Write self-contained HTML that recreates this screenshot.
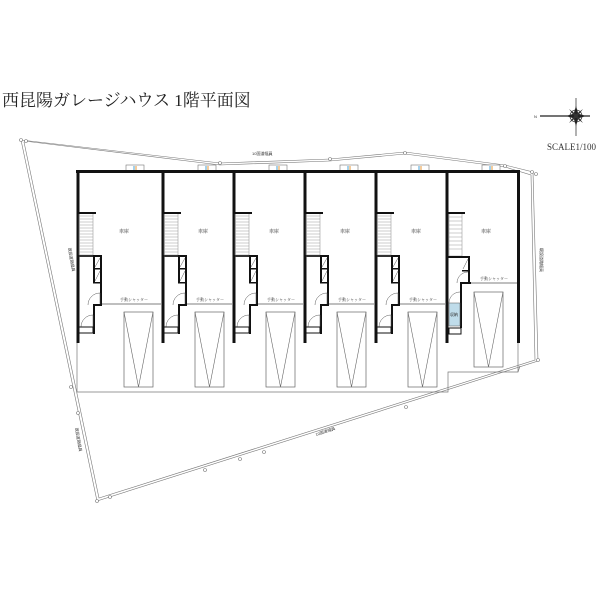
<!DOCTYPE html>
<html><head><meta charset="utf-8"><style>
html,body{margin:0;padding:0;background:#fff;}
svg{display:block;}
text{font-family:"Liberation Serif","Noto Serif CJK SC","Noto Sans CJK JP",serif;}
.t{font-family:"Liberation Sans","Noto Sans CJK JP",sans-serif;fill:#333;}
</style></head><body>
<svg width="600" height="600" viewBox="0 0 600 600" xmlns="http://www.w3.org/2000/svg">
<defs>
<g id="unit">
  <rect x="-1.5" y="171" width="3" height="172" fill="#111"/>
  <rect x="1" y="213" width="14" height="42" fill="none" stroke="#888" stroke-width="0.5"/>
  <g stroke="#999" stroke-width="0.5">
    <line x1="1" y1="216" x2="15" y2="216"/><line x1="1" y1="219" x2="15" y2="219"/><line x1="1" y1="222" x2="15" y2="222"/>
    <line x1="1" y1="225" x2="15" y2="225"/><line x1="1" y1="228" x2="15" y2="228"/><line x1="1" y1="231" x2="15" y2="231"/>
    <line x1="1" y1="234" x2="15" y2="234"/><line x1="1" y1="237" x2="15" y2="237"/><line x1="1" y1="240" x2="15" y2="240"/>
    <line x1="1" y1="243" x2="15" y2="243"/><line x1="1" y1="246" x2="15" y2="246"/><line x1="1" y1="249" x2="15" y2="249"/>
    <line x1="1" y1="252" x2="15" y2="252"/>
  </g>
  <rect x="0" y="212" width="18" height="2" fill="#111"/>
  <rect x="0" y="255" width="24" height="2" fill="#111"/>
  <rect x="22" y="255" width="2" height="50" fill="#111"/>
  <rect x="15" y="255" width="2" height="28" fill="#111"/>
  <rect x="15" y="268" width="8" height="1.5" fill="#111"/>
  <rect x="15" y="282" width="8" height="1.5" fill="#111"/>
  <line x1="17" y1="267" x2="22" y2="258" stroke="#555" stroke-width="0.5"/>
  <line x1="17" y1="281" x2="22" y2="271" stroke="#555" stroke-width="0.5"/>
  <path d="M10 305 A12 12 0 0 1 22 293 L22 305" fill="none" stroke="#555" stroke-width="0.5"/>
  <rect x="15" y="304" width="9" height="2" fill="#111"/>
  <rect x="15" y="304" width="2" height="30" fill="#111"/>
  <path d="M3 327 A12 12 0 0 1 15 315 L15 327" fill="none" stroke="#555" stroke-width="0.5"/>
  <rect x="1" y="327" width="14" height="6" fill="#fff" stroke="#111" stroke-width="1"/>
  <line x1="1" y1="256" x2="15" y2="256" stroke="#999" stroke-width="0.5"/>
</g>
<g id="car">
  <rect x="0" y="0" width="29" height="75" fill="none" stroke="#666" stroke-width="0.7"/>
  <polyline points="0,0 14.5,75 29,0" fill="none" stroke="#666" stroke-width="0.6"/>
</g>
<g id="meter">
  <rect x="0" y="0" width="18" height="6" fill="#fff" stroke="#777" stroke-width="0.6"/>
  <line x1="8" y1="1" x2="8" y2="6" stroke="#4aa3d8" stroke-width="1"/>
  <line x1="10" y1="1" x2="10" y2="6" stroke="#e89a3a" stroke-width="1"/>
</g>
</defs>

<text x="2" y="106" font-size="17" fill="#222">西昆陽ガレージハウス 1階平面図</text>

<!-- compass -->
<g transform="translate(576,116)">
  <line x1="-36" y1="0" x2="14" y2="0" stroke="#222" stroke-width="1.2"/>
  <line x1="0" y1="-18" x2="0" y2="20" stroke="#222" stroke-width="0.7"/>
  <circle r="6" fill="none" stroke="#333" stroke-width="0.8"/>
  <polygon points="0,-10 3,0 0,10 -3,0" fill="#222"/>
  <polygon points="-10,0 0,-3 10,0 0,3" fill="#222"/>
  <polygon points="-7,-7 1,-1 7,7 -1,1" fill="#333"/>
  <polygon points="7,-7 1,1 -7,7 -1,-1" fill="#333"/>
  <text x="-42" y="2" font-size="4" class="t">N</text>
</g>
<text x="547" y="150" font-size="9" fill="#333">SCALE1/100</text>

<!-- boundary (double lines) -->
<g fill="none" stroke="#777" stroke-width="0.6">
  <polyline points="21,140 220,163 330,159 405,152 505,165 533,172 538,361 97,501 21,140"/>
  <polyline points="24,141 220,165 330,161 405,154 505,167 531,175 535,360 99,498 24,142"/>
</g>
<g fill="#fff" stroke="#777" stroke-width="0.6">
  <circle cx="21" cy="140" r="1.5"/><circle cx="26" cy="141" r="1.5"/><circle cx="220" cy="163" r="1.5"/>
  <circle cx="330" cy="159" r="1.5"/><circle cx="405" cy="153" r="1.5"/><circle cx="505" cy="166" r="1.5"/>
  <circle cx="532" cy="172" r="1.5"/><circle cx="536" cy="174" r="1.5"/><circle cx="538" cy="360" r="1.5"/>
  <circle cx="97" cy="501" r="1.5"/><circle cx="110" cy="497" r="1.5"/><circle cx="205" cy="470" r="1.5"/>
  <circle cx="240" cy="459" r="1.5"/><circle cx="264" cy="452" r="1.5"/><circle cx="406" cy="407" r="1.5"/>
  <circle cx="71" cy="387" r="1.5"/><circle cx="78" cy="413" r="1.5"/>
</g>
<text x="252" y="155" font-size="4" class="t">10国道幅員</text>
<text transform="translate(316,436) rotate(-18)" font-size="4" class="t">10国道幅員</text>
<text transform="translate(68,248) rotate(80)" font-size="4" class="t">既設道路幅員</text>
<text transform="translate(75,428) rotate(80)" font-size="4" class="t">既設道路幅員</text>
<text transform="translate(540,248) rotate(90)" font-size="4" class="t">既設道路幅員</text>

<!-- parking outline -->
<polyline points="77,343 77,392 448,392 448,372 518,372 520,366" fill="none" stroke="#777" stroke-width="0.7"/>
<line x1="518" y1="343" x2="518" y2="372" stroke="#777" stroke-width="0.7"/>

<!-- meters -->
<use href="#meter" x="126" y="165"/><use href="#meter" x="198" y="165"/><use href="#meter" x="269" y="165"/>
<use href="#meter" x="340" y="165"/><use href="#meter" x="411" y="165"/><use href="#meter" x="482" y="165"/>

<!-- walls -->
<rect x="76" y="170" width="444" height="3" fill="#111"/>
<rect x="517" y="170" width="3" height="173" fill="#111"/>

<use href="#unit" x="78"/>
<use href="#unit" x="163"/>
<use href="#unit" x="234"/>
<use href="#unit" x="305"/>
<use href="#unit" x="376"/>

<!-- shutters -->
<g stroke="#555" stroke-width="0.8">
  <line x1="102" y1="304" x2="161" y2="304"/>
  <line x1="187" y1="304" x2="232" y2="304"/>
  <line x1="258" y1="304" x2="303" y2="304"/>
  <line x1="329" y1="304" x2="374" y2="304"/>
  <line x1="400" y1="304" x2="445" y2="304"/>
  <line x1="471" y1="283" x2="517" y2="283"/>
</g>
<g font-size="4" class="t" text-anchor="middle">
  <text x="134" y="301">手動シャッター</text><text x="210" y="301">手動シャッター</text>
  <text x="281" y="301">手動シャッター</text><text x="352" y="301">手動シャッター</text>
  <text x="423" y="301">手動シャッター</text><text x="494" y="280">手動シャッター</text>
</g>
<g font-size="5" class="t" text-anchor="middle">
  <text x="124" y="233">車庫</text><text x="203" y="233">車庫</text><text x="274" y="233">車庫</text>
  <text x="345" y="233">車庫</text><text x="416" y="233">車庫</text><text x="486" y="233">車庫</text>
</g>

<!-- cars -->
<use href="#car" x="124" y="312"/><use href="#car" x="195" y="312"/><use href="#car" x="266" y="312"/>
<use href="#car" x="337" y="312"/><use href="#car" x="408" y="312"/><use href="#car" x="474" y="292"/>

<!-- unit 6 -->
<rect x="445.5" y="171" width="3" height="172" fill="#111"/>
<rect x="449" y="213" width="13" height="43" fill="none" stroke="#888" stroke-width="0.5"/>
<g stroke="#999" stroke-width="0.5">
  <line x1="449" y1="217" x2="462" y2="217"/><line x1="449" y1="221" x2="462" y2="221"/><line x1="449" y1="225" x2="462" y2="225"/>
  <line x1="449" y1="229" x2="462" y2="229"/><line x1="449" y1="233" x2="462" y2="233"/><line x1="449" y1="237" x2="462" y2="237"/>
  <line x1="449" y1="241" x2="462" y2="241"/><line x1="449" y1="245" x2="462" y2="245"/><line x1="449" y1="249" x2="462" y2="249"/>
</g>
<rect x="448" y="212" width="17" height="2" fill="#111"/>
<rect x="448" y="256" width="22" height="2" fill="#111"/>
<rect x="468" y="256" width="2" height="15" fill="#111"/>
<rect x="462" y="270" width="8" height="1.5" fill="#111"/>
<line x1="463" y1="269" x2="468" y2="259" stroke="#555" stroke-width="0.5"/>
<path d="M457 283 A11 11 0 0 1 468 272" fill="none" stroke="#555" stroke-width="0.5"/>
<rect x="468" y="271" width="2" height="13" fill="#111"/>
<rect x="460" y="282" width="11" height="2" fill="#111"/>
<rect x="460" y="282" width="2" height="46" fill="#111"/>
<path d="M449 303 A11 11 0 0 1 460 292" fill="none" stroke="#555" stroke-width="0.5"/>
<rect x="449" y="303" width="11" height="23" fill="#bfdcea" stroke="#555" stroke-width="0.5"/>
<text x="454" y="316" font-size="4" class="t" text-anchor="middle">収納</text>
<rect x="449" y="328" width="12" height="6" fill="#fff" stroke="#111" stroke-width="1"/>
</svg>
</body></html>
